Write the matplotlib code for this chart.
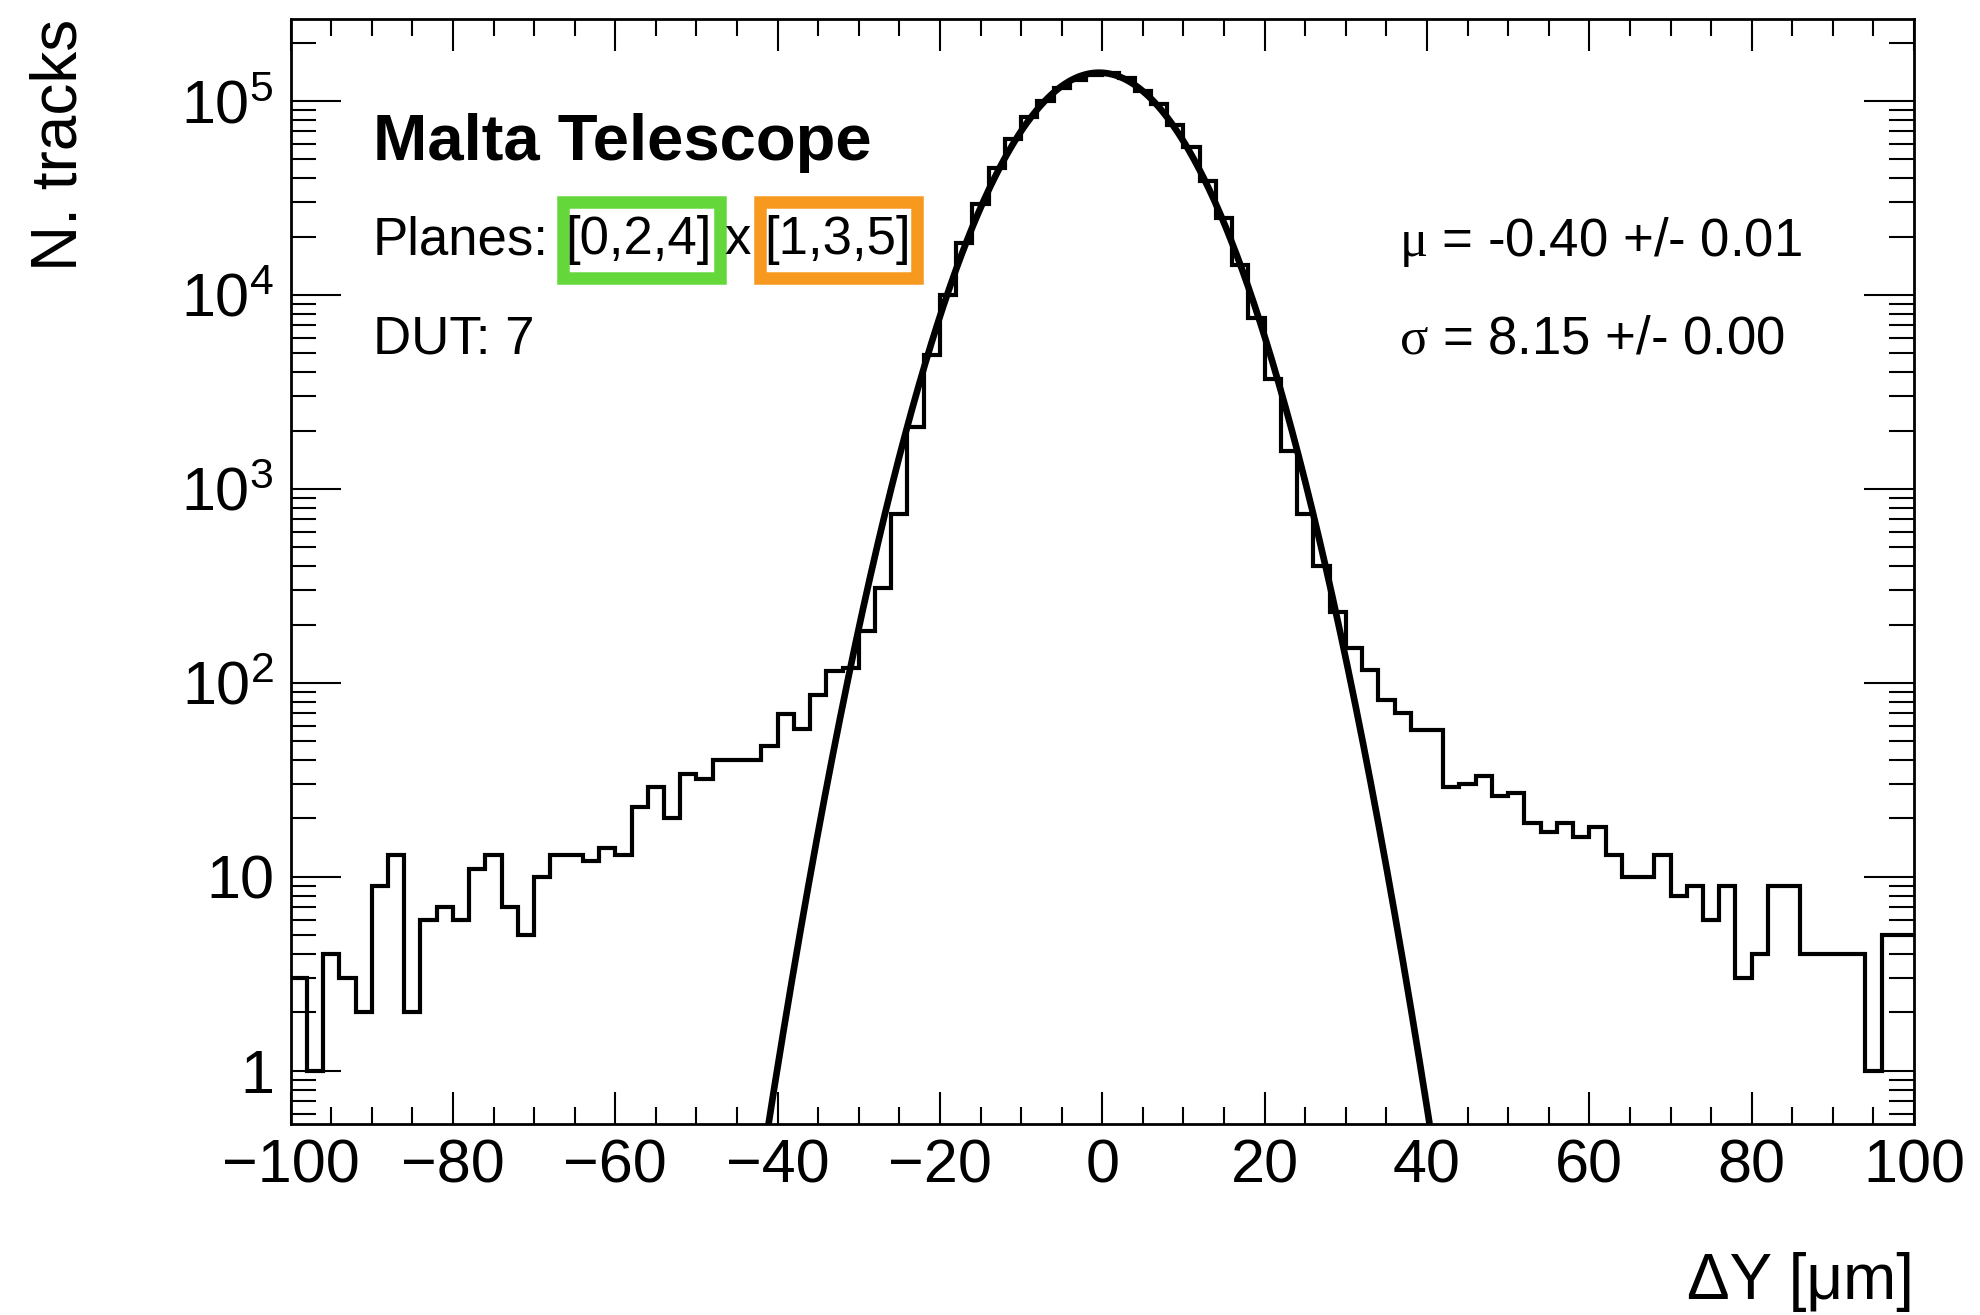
import numpy as np
import matplotlib
matplotlib.use('Agg')
import matplotlib.pyplot as plt
from matplotlib.patches import Rectangle
from matplotlib.ticker import MultipleLocator, LogLocator, FixedLocator, FixedFormatter

plt.rcParams['font.family'] = ['Liberation Sans', 'DejaVu Sans']
plt.rcParams['mathtext.fontset'] = 'custom'
plt.rcParams['mathtext.rm'] = 'Liberation Sans'
plt.rcParams['mathtext.it'] = 'Liberation Serif'
plt.rcParams['axes.unicode_minus'] = True

# histogram: 100 bins of 2 um from -100 to 100
bin_edges = np.arange(-100, 101, 2)
counts_left = [3, 1, 4, 3, 2, 9, 13, 2, 6, 7, 6, 11, 13, 7, 5, 10, 13, 13, 12, 14,
               13, 23, 29, 20, 34, 32, 40, 40, 40, 47, 69, 58, 87, 115]          # -100 .. -34
counts_core = [120, 185, 310, 740, 2080, 4900, 10000, 18500, 29600, 45000, 64000,
               83000, 100000, 117000, 129000, 137000, 139000, 131000, 113000,
               97000, 75000, 58000]                                              # -32 .. 10
counts_right = [38700, 25000, 14300, 7600, 3700, 1560, 740, 400, 232, 152, 117, 82,
                70, 57, 57, 29, 30, 33, 26, 27, 19, 17, 19, 16, 18, 13, 10, 10, 13,
                8, 9, 6, 9, 3, 4, 9, 9, 4, 4, 4, 4, 1, 5, 5]                     # 12 .. 98
counts = np.array(counts_left + counts_core + counts_right, dtype=float)

# gaussian fit
fit_mu = -0.40
fit_sigma = 8.15
fit_amp = 1.40e5

fig = plt.figure(figsize=(19.81, 13.15), dpi=100)
ax = fig.add_axes([0.14668, 0.14505, 0.81952, 0.84054])

ax.stairs(counts, bin_edges, baseline=None, color='black', linewidth=3.0)
xf = np.linspace(-100, 100, 4001)
ax.plot(xf, fit_amp * np.exp(-(xf - fit_mu) ** 2 / (2 * fit_sigma ** 2)),
        color='black', linewidth=4.8)

ax.set_xlim(-100, 100)
ax.set_yscale('log')
ax.set_ylim(0.53, 2.65e5)

ax.xaxis.set_major_locator(MultipleLocator(20))
ax.xaxis.set_minor_locator(MultipleLocator(5))
ax.yaxis.set_major_locator(FixedLocator([1, 10, 1e2, 1e3, 1e4, 1e5]))
ax.yaxis.set_major_formatter(FixedFormatter(['1', '10', r'$\mathrm{10^{2}}$', r'$\mathrm{10^{3}}$',
                                             r'$\mathrm{10^{4}}$', r'$\mathrm{10^{5}}$']))
ax.yaxis.set_minor_locator(LogLocator(base=10, subs=np.arange(2, 10)))
ax.yaxis.set_minor_formatter(plt.NullFormatter())

ax.tick_params(which='both', direction='in', top=True, right=True, width=1.5)
ax.tick_params(axis='x', which='major', length=23, pad=10, labelsize=44)
ax.tick_params(axis='x', which='minor', length=12)
ax.tick_params(axis='y', which='major', length=36, pad=12, labelsize=44)
ax.tick_params(axis='y', which='minor', length=18)
for sp in ax.spines.values():
    sp.set_linewidth(2.0)

ax.set_xlabel('ΔY [μm]', fontsize=46, loc='right')
ax.xaxis.set_label_coords(1.0, -0.143)
ax.xaxis.label.set_va('center')
ax.set_ylabel('N. tracks', fontsize=46, loc='top')
ax.yaxis.set_label_coords(-0.1425, 1.0)
ax.yaxis.label.set_va('center')

# labels
ax.text(0.0506, 0.888, 'Malta Telescope', transform=ax.transAxes, fontsize=47,
        fontweight='bold', va='center', ha='left')
ax.text(0.0506, 0.80, 'Planes:', transform=ax.transAxes, fontsize=38, va='center', ha='left')

# coloured frames round the plane sets
ax.add_patch(Rectangle((0.1675, 0.7659), 0.0970, 0.0682, transform=ax.transAxes, fill=False,
                       ec='#64d83a', lw=9, joinstyle='miter', clip_on=False))
ax.add_patch(Rectangle((0.2889, 0.7659), 0.0970, 0.0682, transform=ax.transAxes, fill=False,
                       ec='#f7981f', lw=9, joinstyle='miter', clip_on=False))
ax.text(0.2145, 0.80, '[0,2,4]', transform=ax.transAxes, fontsize=38, va='center', ha='center')
ax.text(0.2752, 0.80, 'x', transform=ax.transAxes, fontsize=38, va='center', ha='center')
ax.text(0.3370, 0.80, '[1,3,5]', transform=ax.transAxes, fontsize=38, va='center', ha='center')
ax.text(0.0506, 0.710, 'DUT: 7', transform=ax.transAxes, fontsize=38, va='center', ha='left')

ax.text(0.683, 0.798, r'$\mu$ = -0.40 +/- 0.01', transform=ax.transAxes, fontsize=38,
        va='center', ha='left')
ax.text(0.683, 0.710, r'$\sigma$ = 8.15 +/- 0.00', transform=ax.transAxes, fontsize=38,
        va='center', ha='left')

fig.savefig('out.png', dpi=100)
